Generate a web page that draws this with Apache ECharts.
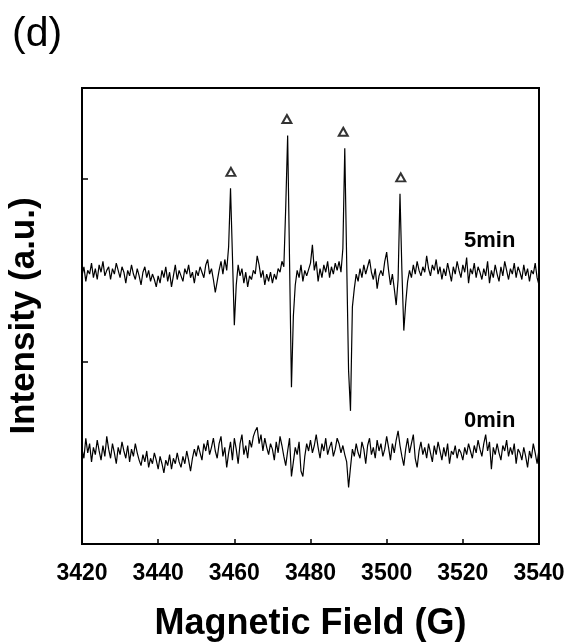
<!DOCTYPE html>
<html>
<head>
<meta charset="utf-8">
<script src="https://cdn.jsdelivr.net/npm/echarts@6/dist/echarts.min.js"></script>
<style>
html,body{margin:0;padding:0;background:#fff;}
#chart{width:567px;height:644px;}
</style>
</head>
<body>
<div id="chart"></div>
<script>
// spectrum sampling: 3420 G to 3540 G, 0.5 G per point
var fieldStart = 3420;
var fieldStep = 0.5;
var xTicks = [3420, 3440, 3460, 3480, 3500, 3520, 3540];

var min5 = [
	1.47,1.52,1.44,1.50,1.48,1.54,1.46,1.51,1.45,1.53,
	1.49,1.55,1.47,1.50,1.52,1.45,1.51,1.48,1.54,1.50,
	1.46,1.52,1.49,1.43,1.50,1.47,1.53,1.48,1.45,1.51,
	1.47,1.42,1.49,1.52,1.46,1.50,1.44,1.48,1.45,1.41,
	1.47,1.43,1.50,1.46,1.52,1.44,1.49,1.41,1.47,1.53,
	1.45,1.50,1.47,1.44,1.51,1.48,1.53,1.46,1.49,1.43,
	1.50,1.47,1.52,1.49,1.46,1.53,1.56,1.48,1.51,1.45,
	1.38,1.44,1.50,1.55,1.48,1.56,1.50,1.63,1.95,1.58,
	1.20,1.42,1.53,1.47,1.51,1.43,1.49,1.41,1.47,1.45,
	1.50,1.48,1.58,1.53,1.46,1.50,1.42,1.48,1.44,1.49,
	1.43,1.48,1.45,1.51,1.49,1.55,1.52,1.85,2.24,1.55,
	0.86,1.25,1.42,1.50,1.46,1.53,1.44,1.50,1.47,1.47,
	1.54,1.64,1.50,1.55,1.44,1.51,1.46,1.53,1.49,1.55,
	1.46,1.52,1.48,1.54,1.50,1.55,1.49,1.62,2.17,1.55,
	0.95,0.73,1.30,1.40,1.48,1.44,1.51,1.46,1.53,1.48,
	1.52,1.56,1.49,1.45,1.51,1.40,1.47,1.50,1.47,1.55,
	1.60,1.50,1.42,1.48,1.40,1.31,1.45,1.92,1.50,1.17,
	1.32,1.44,1.50,1.46,1.53,1.48,1.55,1.50,1.47,1.52,
	1.49,1.58,1.51,1.47,1.53,1.50,1.56,1.48,1.52,1.45,
	1.51,1.47,1.54,1.49,1.44,1.52,1.48,1.55,1.50,1.46,
	1.53,1.49,1.57,1.43,1.51,1.48,1.54,1.46,1.52,1.49,
	1.45,1.51,1.47,1.55,1.43,1.50,1.46,1.53,1.48,1.44,
	1.52,1.47,1.55,1.50,1.45,1.51,1.48,1.54,1.46,1.52,
	1.49,1.45,1.53,1.47,1.51,1.44,1.50,1.48,1.54,1.46,1.42
];

var min0 = [
	0.52,0.47,0.58,0.50,0.55,0.45,0.53,0.49,0.57,0.51,
	0.46,0.54,0.48,0.59,0.52,0.47,0.55,0.50,0.44,0.53,
	0.49,0.56,0.51,0.47,0.54,0.45,0.52,0.48,0.55,0.50,
	0.46,0.43,0.49,0.45,0.51,0.42,0.47,0.44,0.50,0.46,
	0.41,0.48,0.44,0.39,0.46,0.43,0.49,0.41,0.47,0.44,
	0.50,0.45,0.42,0.48,0.44,0.51,0.46,0.40,0.47,0.52,
	0.48,0.54,0.50,0.46,0.55,0.51,0.57,0.49,0.53,0.58,
	0.51,0.47,0.55,0.59,0.48,0.53,0.42,0.50,0.56,0.46,
	0.58,0.52,0.44,0.55,0.60,0.49,0.54,0.47,0.57,0.53,
	0.59,0.62,0.64,0.55,0.60,0.51,0.58,0.53,0.49,0.55,
	0.52,0.46,0.56,0.50,0.59,0.54,0.48,0.43,0.51,0.58,
	0.37,0.45,0.53,0.49,0.56,0.40,0.37,0.48,0.55,0.51,
	0.57,0.50,0.54,0.60,0.53,0.47,0.55,0.51,0.58,0.49,
	0.53,0.56,0.48,0.52,0.58,0.55,0.50,0.54,0.49,0.45,
	0.31,0.42,0.52,0.48,0.55,0.50,0.47,0.56,0.52,0.44,
	0.54,0.58,0.49,0.53,0.47,0.57,0.51,0.55,0.48,0.52,
	0.59,0.53,0.46,0.55,0.50,0.57,0.62,0.54,0.48,0.43,
	0.52,0.58,0.50,0.55,0.60,0.47,0.42,0.51,0.56,0.49,
	0.53,0.47,0.55,0.50,0.45,0.54,0.49,0.56,0.51,0.46,
	0.53,0.48,0.55,0.44,0.51,0.49,0.54,0.47,0.52,0.50,
	0.46,0.53,0.49,0.55,0.51,0.47,0.54,0.50,0.57,0.52,
	0.48,0.55,0.60,0.51,0.56,0.41,0.53,0.49,0.55,0.50,
	0.46,0.54,0.51,0.57,0.48,0.53,0.49,0.55,0.44,0.52,
	0.50,0.46,0.53,0.48,0.42,0.51,0.47,0.55,0.50,0.44,0.52
];

// triangle markers above the four lines
var markFields = [3459.1, 3473.8, 3488.6, 3503.7];
var markValues = [2.04, 2.33, 2.26, 2.01];

function toPairs(arr){
	var out = [];
	for (var i = 0; i < arr.length; i++) {
		out.push([fieldStart + i * fieldStep, arr[i]]);
	}
	return out;
}

var marks = [];
for (var k = 0; k < markFields.length; k++) {
	marks.push([markFields[k], markValues[k]]);
}

var myChart = echarts.init(document.getElementById('chart'));
var fontFam = 'Liberation Sans, Arial, Helvetica, sans-serif';
var option = {
	backgroundColor : '#fff',
	animation : false,
	grid : {
		left : 82,
		top : 88,
		width : 457,
		height : 456,
		show : true,
		borderColor : '#000',
		borderWidth : 2,
		containLabel : false,
		outerBoundsMode : 'none'
	},
	xAxis : {
		type : 'value',
		min : 3420,
		max : 3540,
		interval : 20,
		name : 'Magnetic Field (G)',
		nameLocation : 'middle',
		nameGap : 62,
		nameTextStyle : {
			color : '#000',
			fontSize : 36,
			fontWeight : 'bold',
			fontFamily : fontFam
		},
		axisLine : { lineStyle : { color : '#000', width : 2 } },
		axisTick : { inside : true, length : 5, lineStyle : { color : '#000', width : 1.5 } },
		axisLabel : {
			margin : 18,
			color : '#000',
			fontSize : 23,
			fontWeight : 'bold',
			fontFamily : fontFam,
			formatter : function(v){ return xTicks.indexOf(v) >= 0 ? String(v) : ''; }
		},
		splitLine : { show : false }
	},
	yAxis : {
		type : 'value',
		min : 0,
		max : 2.5,
		interval : 1,
		name : 'Intensity (a.u.)',
		nameLocation : 'middle',
		nameGap : 40,
		nameTextStyle : {
			color : '#000',
			fontSize : 35,
			fontWeight : 'bold',
			fontFamily : fontFam
		},
		axisLine : { lineStyle : { color : '#000', width : 2 } },
		axisTick : { inside : true, length : 6, lineStyle : { color : '#000', width : 1.5 } },
		axisLabel : { show : false },
		splitLine : { show : false }
	},
	series : [
		{
			name : '5min',
			type : 'line',
			data : toPairs(min5),
			showSymbol : false,
			lineStyle : { color : '#000', width : 1.2 },
			itemStyle : { color : '#000' }
		},
		{
			name : '0min',
			type : 'line',
			data : toPairs(min0),
			showSymbol : false,
			lineStyle : { color : '#000', width : 1.2 },
			itemStyle : { color : '#000' }
		},
		{
			name : 'marks',
			type : 'scatter',
			data : marks,
			symbol : 'triangle',
			symbolSize : [9, 8],
			itemStyle : { color : '#fff', borderColor : '#000', borderWidth : 2 }
		}
	],
	graphic : [
		{
			type : 'text', left : 12, top : 14,
			style : { text : '(d)', fill : '#000', fontSize : 41, fontFamily : fontFam }
		},
		{
			type : 'text', left : 464, top : 230,
			style : { text : '5min', fill : '#000', fontSize : 22, fontWeight : 'bold', fontFamily : fontFam }
		},
		{
			type : 'text', left : 464, top : 410,
			style : { text : '0min', fill : '#000', fontSize : 22, fontWeight : 'bold', fontFamily : fontFam }
		}
	]
};
myChart.setOption(option, true);
</script>
</body>
</html>
